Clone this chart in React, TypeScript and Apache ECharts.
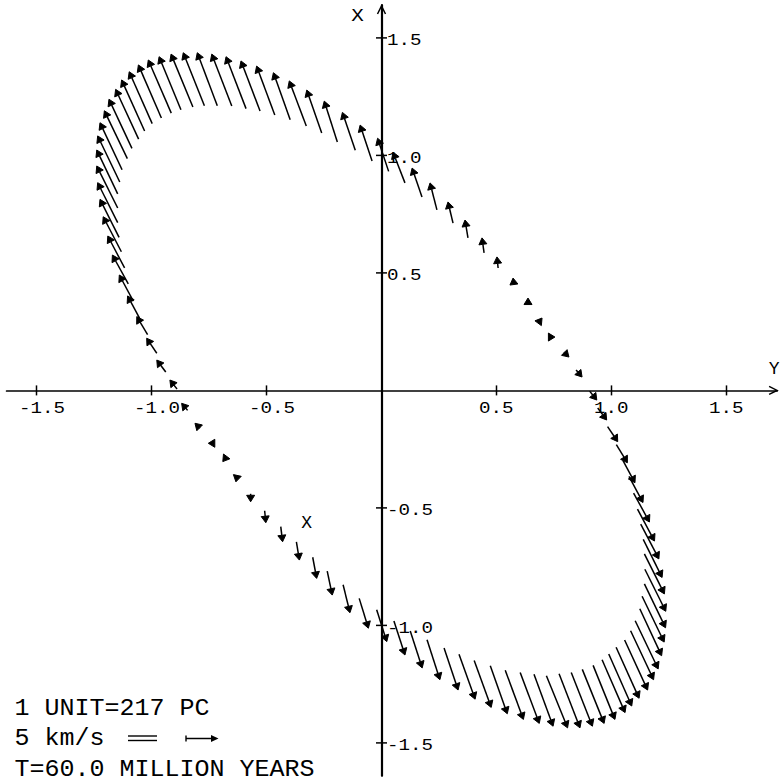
import React, { useEffect, useRef } from "react";
import * as echarts from "echarts";

// ---- axes ----
const xRange = [-1.63, 1.72];
const yRange = [-1.64, 1.64];
const xTicks = [-1.5, -1.0, -0.5, 0.5, 1.0, 1.5];
const xTickLabels = ["-1.5", "-1.0", "-0.5", "0.5", "1.0", "1.5"];
const yTicks = [1.5, 1.0, 0.5, -0.5, -1.0, -1.5];
const yTickLabels = ["1.5", "1.0", "0.5", "-0.5", "-1.0", "-1.5"];
const axisNames = ["Y", "X"]; // horizontal axis, vertical axis

// ---- marker ----
const markerX = [-0.325];
const markerY = [-0.559];
const markerLabels = ["X"];

// ---- captions ----
const captionLines = ["1 UNIT=217 PC", "5 km/s", "T=60.0 MILLION YEARS"];

// ---- velocity arrows (head = arrow tip, tail = start), in plot units ----
// segments: upper-left loop (37), upper-right diagonal (13), lower-right loop (37), lower-left diagonal (13)
const headX = [
  -0.920, -0.977, -1.021, -1.064, -1.104, -1.140, -1.170, -1.190, -1.210, -1.224, -1.234, -1.238, -1.238,
  -1.234, -1.224, -1.205, -1.185, -1.156, -1.130, -1.097, -1.057, -1.014, -0.967, -0.915, -0.862, -0.801,
  -0.738, -0.676, -0.611, -0.543, -0.470, -0.401, -0.325, -0.249, -0.170, -0.093, -0.017,
  0.050, 0.133, 0.211, 0.289, 0.363, 0.437, 0.502, 0.572, 0.637, 0.698, 0.754, 0.815, 0.872,
  0.936, 0.979, 1.027, 1.069, 1.102, 1.137, 1.165, 1.187, 1.206, 1.220, 1.230, 1.236, 1.235,
  1.229, 1.218, 1.203, 1.183, 1.157, 1.120, 1.088, 1.059, 1.015, 0.968, 0.917, 0.863, 0.809,
  0.746, 0.686, 0.617, 0.547, 0.477, 0.407, 0.333, 0.254, 0.177, 0.102, 0.023,
  -0.057, -0.137, -0.214, -0.282, -0.357, -0.430, -0.503, -0.569, -0.633, -0.690, -0.753, -0.811, -0.869,
];
const headY = [
  0.044, 0.129, 0.222, 0.314, 0.402, 0.491, 0.576, 0.657, 0.739, 0.813, 0.884, 0.955, 1.023,
  1.083, 1.139, 1.190, 1.239, 1.281, 1.321, 1.356, 1.385, 1.406, 1.420, 1.431, 1.437, 1.437,
  1.431, 1.420, 1.402, 1.380, 1.352, 1.317, 1.278, 1.231, 1.183, 1.129, 1.073,
  1.014, 0.946, 0.883, 0.802, 0.725, 0.649, 0.568, 0.478, 0.393, 0.308, 0.227, 0.142, 0.057,
  -0.041, -0.126, -0.218, -0.308, -0.393, -0.477, -0.560, -0.641, -0.717, -0.796, -0.866, -0.940, -1.010,
  -1.071, -1.129, -1.185, -1.231, -1.275, -1.310, -1.343, -1.371, -1.400, -1.417, -1.429, -1.436, -1.436,
  -1.429, -1.417, -1.400, -1.376, -1.349, -1.314, -1.275, -1.231, -1.181, -1.126, -1.069,
  -1.012, -0.946, -0.871, -0.800, -0.722, -0.644, -0.563, -0.474, -0.389, -0.303, -0.225, -0.140, -0.055,
];
const tailX = [
  -0.889, -0.938, -0.977, -1.017, -1.052, -1.079, -1.101, -1.117, -1.131, -1.141, -1.147, -1.147, -1.147,
  -1.138, -1.128, -1.105, -1.085, -1.056, -1.030, -0.997, -0.957, -0.914, -0.872, -0.820, -0.770, -0.714,
  -0.651, -0.589, -0.528, -0.464, -0.397, -0.327, -0.260, -0.192, -0.114, -0.041, 0.031,
  0.102, 0.176, 0.241, 0.311, 0.376, 0.446, 0.507, 0.576, 0.637, 0.685, 0.733, 0.793, 0.846,
  0.905, 0.940, 0.983, 1.021, 1.050, 1.076, 1.096, 1.113, 1.127, 1.138, 1.143, 1.145, 1.143,
  1.133, 1.123, 1.103, 1.083, 1.057, 1.020, 0.988, 0.959, 0.920, 0.873, 0.825, 0.772, 0.717,
  0.663, 0.603, 0.538, 0.473, 0.403, 0.337, 0.272, 0.198, 0.125, 0.054, -0.021,
  -0.097, -0.167, -0.236, -0.299, -0.370, -0.438, -0.508, -0.569, -0.628, -0.677, -0.731, -0.789, -0.843,
];
const tailY = [
  0.006, 0.078, 0.158, 0.237, 0.308, 0.380, 0.453, 0.521, 0.590, 0.651, 0.714, 0.776, 0.836,
  0.887, 0.939, 0.986, 1.030, 1.069, 1.104, 1.135, 1.159, 1.180, 1.194, 1.206, 1.211, 1.211,
  1.210, 1.199, 1.189, 1.172, 1.152, 1.125, 1.095, 1.057, 1.022, 0.976, 0.932,
  0.883, 0.823, 0.768, 0.712, 0.649, 0.585, 0.521, 0.449, 0.372, 0.291, 0.227, 0.163, 0.087,
  -0.003, -0.075, -0.154, -0.231, -0.299, -0.366, -0.437, -0.505, -0.569, -0.634, -0.696, -0.761, -0.823,
  -0.876, -0.929, -0.980, -1.023, -1.062, -1.093, -1.122, -1.146, -1.170, -1.187, -1.200, -1.206, -1.214,
  -1.208, -1.200, -1.191, -1.172, -1.149, -1.123, -1.096, -1.061, -1.024, -0.981, -0.933,
  -0.885, -0.827, -0.769, -0.710, -0.645, -0.580, -0.512, -0.440, -0.367, -0.286, -0.225, -0.161, -0.085,
];

const FONT = '"Liberation Mono", "DejaVu Sans Mono", monospace';
const INK = "#000";

function buildOption() {
  const arrowData = headX.map((x, i) => [x, headY[i], tailX[i], tailY[i]]);

  const xTickSeries = {
    type: "custom",
    coordinateSystem: "cartesian2d",
    clip: false,
    silent: true,
    z: 3,
    data: xTicks.map((v, i) => [v, 0, i]),
    renderItem: (params: any, api: any) => {
      const p = api.coord([api.value(0), api.value(1)]);
      const i = api.value(2);
      return {
        type: "group",
        children: [
          { type: "line", shape: { x1: p[0], y1: p[1] - 5, x2: p[0], y2: p[1] + 5 }, style: { stroke: INK, lineWidth: 1.5 } },
          {
            type: "text", x: p[0] - 17.5, y: p[1] + 17.6, scaleX: 1.2,
            style: { text: xTickLabels[i], x: 0, y: 0, fill: INK, font: `16px ${FONT}`, align: "left", verticalAlign: "middle" },
          },
        ],
      };
    },
  };

  const yTickSeries = {
    type: "custom",
    coordinateSystem: "cartesian2d",
    clip: false,
    silent: true,
    z: 3,
    data: yTicks.map((v, i) => [0, v, i]),
    renderItem: (params: any, api: any) => {
      const p = api.coord([api.value(0), api.value(1)]);
      const i = api.value(2);
      return {
        type: "group",
        children: [
          { type: "line", shape: { x1: p[0] - 5.5, y1: p[1], x2: p[0] + 5.5, y2: p[1] }, style: { stroke: INK, lineWidth: 1.5 } },
          {
            type: "text", x: p[0] + 5.5, y: p[1] + 2.6, scaleX: 1.2,
            style: { text: yTickLabels[i], x: 0, y: 0, fill: INK, font: `16px ${FONT}`, align: "left", verticalAlign: "middle" },
          },
        ],
      };
    },
  };

  const axisDecor = {
    type: "custom",
    coordinateSystem: "cartesian2d",
    clip: false,
    silent: true,
    z: 3,
    data: [
      [xRange[1], 0, 0],
      [0, yRange[1], 1],
    ],
    renderItem: (params: any, api: any) => {
      const p = api.coord([api.value(0), api.value(1)]);
      const k = api.value(2);
      if (k === 0) {
        return {
          type: "group",
          children: [
            { type: "polyline", shape: { points: [[p[0] - 8, p[1] - 4], [p[0], p[1]], [p[0] - 8, p[1] + 4]] }, style: { stroke: INK, fill: "none", lineWidth: 1.5 } },
            { type: "text", x: p[0] - 3, y: p[1] - 21.5, style: { text: axisNames[0], x: 0, y: 0, fill: INK, font: `18px ${FONT}`, align: "center", verticalAlign: "middle" } },
          ],
        };
      }
      return {
        type: "group",
        children: [
          { type: "polyline", shape: { points: [[p[0] - 4, p[1] + 9], [p[0], p[1] + 1], [p[0] + 4, p[1] + 9]] }, style: { stroke: INK, fill: "none", lineWidth: 1.5 } },
          { type: "text", x: p[0] - 24, y: p[1] + 11, scaleX: 1.1, style: { text: axisNames[1], x: 0, y: 0, fill: INK, font: `19px ${FONT}`, align: "center", verticalAlign: "middle" } },
        ],
      };
    },
  };

  const markerSeries = {
    type: "custom",
    coordinateSystem: "cartesian2d",
    clip: false,
    silent: true,
    z: 4,
    data: markerX.map((x, i) => [x, markerY[i], i]),
    renderItem: (params: any, api: any) => {
      const p = api.coord([api.value(0), api.value(1)]);
      return {
        type: "text", x: p[0], y: p[1] + 1,
        style: { text: markerLabels[api.value(2)], x: 0, y: 0, fill: INK, font: `18px ${FONT}`, align: "center", verticalAlign: "middle" },
      };
    },
  };

  const arrowSeries = {
    type: "custom",
    coordinateSystem: "cartesian2d",
    clip: false,
    silent: true,
    z: 5,
    data: arrowData,
    renderItem: (params: any, api: any) => {
      const h = api.coord([api.value(0), api.value(1)]);
      const t = api.coord([api.value(2), api.value(3)]);
      const dx = h[0] - t[0];
      const dy = h[1] - t[1];
      const len = Math.hypot(dx, dy) || 1;
      const ux = dx / len;
      const uy = dy / len;
      const L = 6.5;
      const W = 4;
      const bx = h[0] - ux * L;
      const by = h[1] - uy * L;
      const children: any[] = [];
      if (len > L) {
        children.push({ type: "line", shape: { x1: t[0], y1: t[1], x2: bx, y2: by }, style: { stroke: INK, lineWidth: 1.5 } });
      }
      children.push({
        type: "polygon",
        shape: { points: [[h[0], h[1]], [bx - uy * W, by + ux * W], [bx + uy * W, by - ux * W]] },
        style: { fill: INK, stroke: INK, lineWidth: 1, lineJoin: "round" },
      });
      return { type: "group", children };
    },
  };

  const captionFont = `23px ${FONT}`;
  const graphic = [
    { type: "text", x: 14.5, y: 709, scaleX: 1.087, style: { text: captionLines[0], x: 0, y: 0, fill: INK, font: captionFont, align: "left", verticalAlign: "middle" } },
    { type: "text", x: 14.5, y: 739, scaleX: 1.087, style: { text: captionLines[1], x: 0, y: 0, fill: INK, font: captionFont, align: "left", verticalAlign: "middle" } },
    { type: "text", x: 14.5, y: 770, scaleX: 1.087, style: { text: captionLines[2], x: 0, y: 0, fill: INK, font: captionFont, align: "left", verticalAlign: "middle" } },
    // long equals sign
    { type: "line", shape: { x1: 128, y1: 736, x2: 157, y2: 736 }, style: { stroke: INK, lineWidth: 1.4 } },
    { type: "line", shape: { x1: 128, y1: 740.5, x2: 157, y2: 740.5 }, style: { stroke: INK, lineWidth: 1.4 } },
    // key arrow
    { type: "line", shape: { x1: 186, y1: 735.5, x2: 186, y2: 741.5 }, style: { stroke: INK, lineWidth: 1.4 } },
    { type: "line", shape: { x1: 186, y1: 738.5, x2: 212, y2: 738.5 }, style: { stroke: INK, lineWidth: 1.5 } },
    { type: "polygon", shape: { points: [[218.5, 738.5], [211, 735], [211, 742]] }, style: { fill: INK } },
  ];

  return {
    animation: false,
    backgroundColor: "#fff",
    grid: { left: 6.6, right: 3.9, top: 5, bottom: 8.2, containLabel: false, outerBoundsMode: "none" },
    xAxis: {
      type: "value",
      min: xRange[0],
      max: xRange[1],
      axisLine: { onZero: true, lineStyle: { color: INK, width: 1.7 } },
      axisTick: { show: false },
      axisLabel: { show: false },
      splitLine: { show: false },
    },
    yAxis: {
      type: "value",
      min: yRange[0],
      max: yRange[1],
      axisLine: { onZero: true, lineStyle: { color: INK, width: 2.2 } },
      axisTick: { show: false },
      axisLabel: { show: false },
      splitLine: { show: false },
    },
    graphic,
    series: [xTickSeries, yTickSeries, axisDecor, markerSeries, arrowSeries],
  };
}

export default function App() {
  const ref = useRef<HTMLDivElement>(null);
  useEffect(() => {
    if (!ref.current) return;
    const chart = echarts.init(ref.current, null, { renderer: "svg" });
    chart.setOption(buildOption() as any);
    return () => chart.dispose();
  }, []);
  return (
    <div
      ref={ref}
      style={{ position: "absolute", left: 0, top: 0, width: 781, height: 784, background: "#fff" }}
    />
  );
}
